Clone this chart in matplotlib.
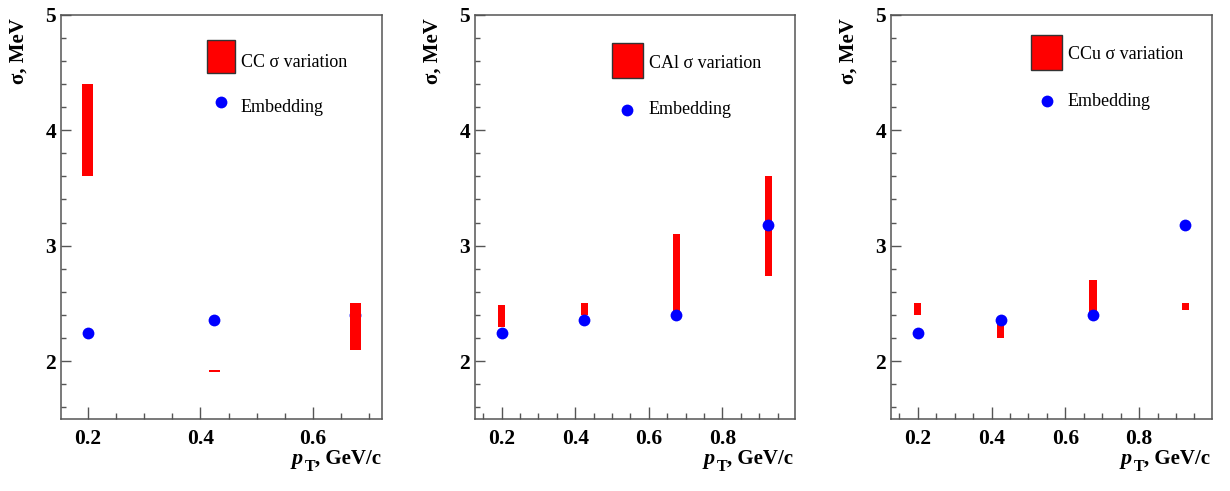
import matplotlib
matplotlib.use("Agg")
import matplotlib.pyplot as plt
from matplotlib.patches import Rectangle
from matplotlib.lines import Line2D
from matplotlib.ticker import MultipleLocator
import numpy as np

plt.rcParams['font.family'] = ['Liberation Serif', 'DejaVu Serif']

# ---- data ----
pt_bins = [0.2, 0.425, 0.675, 0.925]
emb_sigma = [2.24, 2.36, 2.40, 3.18]

cc_pt = [0.2, 0.425, 0.675]
cc_lo = [3.60, 1.905, 2.10]
cc_hi = [4.40, 1.920, 2.50]

cal_pt = [0.2, 0.425, 0.675, 0.925]
cal_lo = [2.30, 2.40, 2.40, 2.74]
cal_hi = [2.49, 2.50, 3.10, 3.60]

ccu_pt = [0.2, 0.425, 0.675, 0.925]
ccu_lo = [2.40, 2.20, 2.40, 2.44]
ccu_hi = [2.50, 2.35, 2.70, 2.50]

systems = ["CC", "CAl", "CCu"]

W, H = 1230, 491
fig = plt.figure(figsize=(W / 100, H / 100), dpi=100)
renderer = fig.canvas.get_renderer()


def fx(x):
    return x / W


def fy(y):
    return 1 - y / H


FRAME = '#555555'
RED = '#ff0000'
BLUE = '#0000ff'

panels = [
    dict(rect=(61, 14.5, 382, 419), pts=cc_pt, lo=cc_lo, hi=cc_hi, n_emb=3,
         bars_on_top=True, xmaj=[0.2, 0.4, 0.6],
         box=(207.3, 40.3, 235.3, 73), txt1=(240.7, 66.7),
         mark=(221.3, 102.3), txt2=(240.7, 112.0),
         ylab=(19, 18), xlab=(381, 464)),
    dict(rect=(475, 14.5, 795, 419), pts=cal_pt, lo=cal_lo, hi=cal_hi, n_emb=4,
         bars_on_top=False, xmaj=[0.2, 0.4, 0.6, 0.8],
         box=(611.7, 43, 643.3, 78), txt1=(648.7, 68.3),
         mark=(627.3, 110), txt2=(648.7, 114.5),
         ylab=(433, 18), xlab=(793, 464)),
    dict(rect=(891, 14.5, 1212, 419), pts=ccu_pt, lo=ccu_lo, hi=ccu_hi, n_emb=4,
         bars_on_top=False, xmaj=[0.2, 0.4, 0.6, 0.8],
         box=(1030.7, 35.3, 1062.3, 70), txt1=(1067.7, 59.3),
         mark=(1046.7, 101), txt2=(1067.7, 106.5),
         ylab=(849, 18), xlab=(1210, 464)),
]


def pt_title(x_right, y_base):
    """Draw 'p_T, GeV/c' right-aligned, building the subscript by hand."""
    t1 = fig.text(fx(x_right), fy(y_base), ", GeV/c", ha='right',
                  va='baseline', fontsize=15, fontweight='bold')
    bb = t1.get_window_extent(renderer)
    t2 = fig.text(bb.x0 / W, fy(y_base + 7), "T", ha='right',
                  va='baseline', fontsize=11.5, fontweight='bold')
    bb2 = t2.get_window_extent(renderer)
    fig.text((bb2.x0 - 1.5) / W, fy(y_base), "p", ha='right', va='baseline',
             fontsize=16, fontweight='bold', fontstyle='italic')


for sysname, p in zip(systems, panels):
    l, t, r, b = p['rect']
    ax = fig.add_axes([fx(l), fy(b), (r - l) / W, (b - t) / H])

    n = p['n_emb']
    xs = pt_bins[:n]
    span = xs[-1] - xs[0]
    ax.set_xlim(xs[0] - 0.1 * span, xs[-1] + 0.1 * span)
    ax.set_ylim(1.5, 5.0)

    lo = np.array(p['lo'])
    hi = np.array(p['hi'])
    zb, zp = (3, 2) if p['bars_on_top'] else (2, 3)
    ax.bar(p['pts'], hi - lo, bottom=lo, width=0.02, color=RED,
           edgecolor='none', zorder=zb)
    ax.plot(xs, emb_sigma[:n], 'o', color=BLUE, markersize=8.5,
            markeredgewidth=0, zorder=zp)

    # frame and ticks
    for s in ax.spines.values():
        s.set_color(FRAME)
        s.set_linewidth(1.1)
    ax.set_xticks(p['xmaj'])
    ax.xaxis.set_minor_locator(MultipleLocator(0.05))
    ax.set_yticks([2, 3, 4, 5])
    ax.yaxis.set_minor_locator(MultipleLocator(0.2))
    ax.set_xticklabels([f"{v:.1f}" for v in p['xmaj']])
    ax.set_yticklabels(["2", "3", "4", "5"])
    ax.tick_params(axis='both', which='both', direction='in', color=FRAME,
                   top=False, right=False, width=1.0)
    ax.tick_params(axis='x', which='major', length=8.5, pad=7,
                   labelsize=15.5)
    ax.tick_params(axis='x', which='minor', length=4.5)
    ax.tick_params(axis='y', which='major', length=7.2, pad=3.5,
                   labelsize=15.5)
    ax.tick_params(axis='y', which='minor', length=3.6)
    for lab in ax.get_xticklabels() + ax.get_yticklabels():
        lab.set_fontweight('bold')

    # legend
    x0, y0, x1, y1 = p['box']
    fig.add_artist(Rectangle((fx(x0), fy(y1)), (x1 - x0) / W, (y1 - y0) / H,
                             transform=fig.transFigure, facecolor=RED,
                             edgecolor='#333333', linewidth=1.0))
    fig.text(fx(p['txt1'][0]), fy(p['txt1'][1]), f"{sysname} σ variation",
             fontsize=13, ha='left', va='baseline')
    mx, my = p['mark']
    fig.add_artist(Line2D([fx(mx)], [fy(my)], marker='o', color=BLUE,
                          markersize=8.5, markeredgewidth=0,
                          transform=fig.transFigure))
    fig.text(fx(p['txt2'][0]), fy(p['txt2'][1]), "Embedding",
             fontsize=13, ha='left', va='baseline')

    # axis titles
    fig.text(fx(p['ylab'][0]), fy(p['ylab'][1]), "σ, MeV", rotation=90,
             ha='center', va='top', fontsize=15, fontweight='bold')
    pt_title(p['xlab'][0], p['xlab'][1])

fig.savefig("out.png", dpi=100)
